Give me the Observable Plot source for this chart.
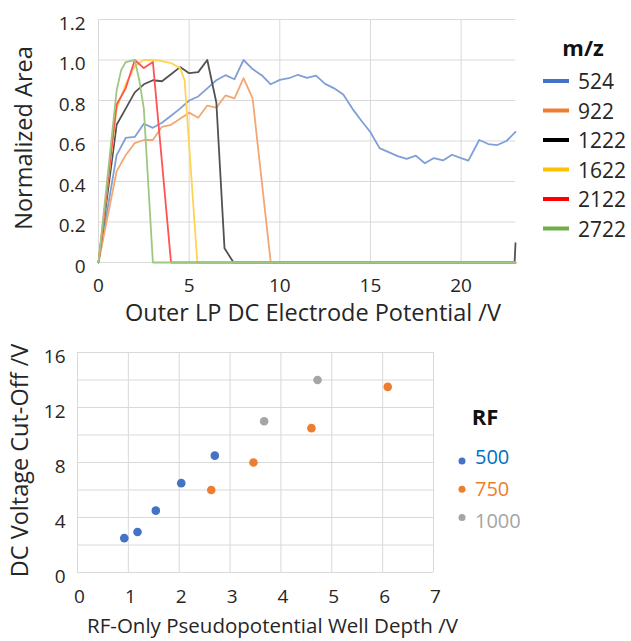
<!DOCTYPE html>
<html>
<head>
<meta charset="utf-8">
<script src="https://cdn.jsdelivr.net/npm/d3@7"></script>
<script src="https://cdn.jsdelivr.net/npm/@observablehq/plot@0.6"></script>
<style>
  html, body { margin: 0; padding: 0; background: #fff; }
  #wrap { position: relative; width: 631px; height: 641px; overflow: hidden; font-family: "Open Sans", sans-serif; }
  #top, #bottom { position: absolute; left: 0; }
  #top { top: 0; }
  #bottom { top: 330px; }
  #legend { position: absolute; left: 0; top: 0; pointer-events: none; }
</style>
</head>
<body>
<div id="wrap">
  <div id="top"></div>
  <div id="bottom"></div>
  <svg id="legend" width="631" height="641"></svg>
</div>
<script>
// ---------- Top chart data (x = Outer LP DC electrode potential /V, y = normalized area) ----------
const mzNames = ["524", "922", "1222", "1622", "2122", "2722"];
const mzColors = ["#4472C4", "#ED7D31", "#000000", "#FFC000", "#FF0000", "#70AD47"];

const mz524 = [[0,0],[1,0.53],[1.5,0.615],[2,0.62],[2.5,0.685],[3,0.665],[3.5,0.69],[4,0.725],[4.5,0.76],
  [5,0.8],[5.5,0.82],[6,0.86],[6.5,0.9],[7,0.925],[7.5,0.905],[8,1.0],[8.5,0.955],[9,0.925],[9.5,0.88],
  [10,0.902],[10.5,0.91],[11,0.927],[11.5,0.912],[12,0.923],[12.5,0.882],[13,0.86],[13.5,0.83],[14,0.76],
  [14.5,0.7],[15,0.643],[15.5,0.565],[16,0.545],[16.5,0.525],[17,0.512],[17.5,0.528],[18,0.49],[18.5,0.516],
  [19,0.504],[19.5,0.532],[20,0.515],[20.4,0.503],[21,0.605],[21.5,0.585],[22,0.58],[22.5,0.6],[23,0.645]];
const mz922 = [[0,0],[1,0.45],[1.5,0.53],[2,0.59],[2.5,0.605],[3,0.605],[3.5,0.67],[4,0.68],[4.5,0.71],
  [5,0.74],[5.5,0.715],[6,0.775],[6.5,0.765],[7,0.825],[7.5,0.81],[8,0.91],[8.5,0.81],[9.5,0],[23,0]];
const mz1222 = [[0,0],[1,0.68],[1.5,0.76],[2,0.84],[2.5,0.88],[3,0.9],[3.5,0.895],[4,0.93],[4.5,0.965],
  [5,0.935],[5.5,0.94],[6,1.0],[6.5,0.79],[6.95,0.07],[7.45,0],[22.95,0],[23,0.095]];
const mz1622 = [[0,0],[1,0.76],[1.5,0.88],[2,0.97],[2.5,1.0],[3,1.0],[3.5,0.995],[4,0.985],[4.5,0.96],
  [4.75,0.9],[5.45,0],[23,0]];
const mz2122 = [[0,0],[1,0.78],[1.5,0.86],[2,1.0],[2.5,0.96],[3,0.99],[4,0],[23,0]];
const mz2722 = [[0,0],[1,0.85],[1.25,0.95],[1.5,0.99],[2,1.0],[2.25,0.9],[2.5,0.76],[3,0],[23,0]];
const mzSeries = [mz524, mz922, mz1222, mz1622, mz2122, mz2722];

const topXTicks = [0, 5, 10, 15, 20];
const topYTicks = [0, 0.2, 0.4, 0.6, 0.8, 1.0, 1.2];

// ---------- Bottom chart data (x = RF-only pseudopotential well depth /V, y = DC cut-off /V) ----------
const rfNames = ["500", "750", "1000"];
const rfColors = ["#4472C4", "#ED7D31", "#A5A5A5"];
const rfTextColors = ["#0070C0", "#ED7D31", "#A5A5A5"];
const rf500 = [[0.92,2.5],[1.18,2.95],[1.54,4.5],[2.04,6.5],[2.7,8.5]];
const rf750 = [[2.63,6.0],[3.46,8.0],[4.6,10.5],[6.1,13.5]];
const rf1000 = [[3.67,11.0],[4.72,14.0]];
const rfSeries = [rf500, rf750, rf1000];

const botXTicks = [0, 1, 2, 3, 4, 5, 6, 7];
const botYGrid = [0, 2, 4, 6, 8, 10, 12, 14, 16];
const botYTicks = [0, 4, 8, 12, 16];

// ---------- build tables ----------
const lineRows = mzSeries.flatMap((s, i) => s.map(([x, y]) => ({x, y, mz: mzNames[i]})));
const dotRows = rfSeries.flatMap((s, i) => s.map(([x, y]) => ({x, y, rf: rfNames[i]})));
// plotted lines appear as paler tints of the legend colours
const mzLineColors = mzColors.map(c => d3.interpolateRgb(c, "#ffffff")(0.32));

const FONT = "Open Sans";
const tickFill = "#262626";
const titleFill = "#262626";
const gridColor = "#d9d9d9";

const topPlot = Plot.plot({
  width: 631, height: 330,
  marginTop: 19, marginBottom: 68, marginLeft: 98, marginRight: 116,
  style: {fontFamily: FONT, background: "white", overflow: "visible"},
  x: {domain: [0, 23]},
  y: {domain: [0, 1.2]},
  color: {domain: mzNames, range: mzLineColors},
  marks: [
    Plot.gridX(topXTicks, {stroke: gridColor, strokeOpacity: 1}),
    Plot.gridY(topYTicks, {stroke: gridColor, strokeOpacity: 1}),
    Plot.axisX(topXTicks, {tickSize: 0, tickPadding: 16, fontSize: 19, fill: tickFill, label: null}),
    Plot.axisY(topYTicks, {tickSize: 0, tickPadding: 13, fontSize: 19, fill: tickFill, label: null, dy: 4,
      tickFormat: d => d === 0 ? "0" : d.toFixed(1)}),
    Plot.line(lineRows, {x: "x", y: "y", z: "mz", stroke: "mz", strokeWidth: 1.8}),
    Plot.text(["Outer LP DC Electrode Potential /V"], {text: d => d, frameAnchor: "bottom", dy: 51, dx: 6,
      lineAnchor: "middle", textAnchor: "middle", fontSize: 23.5, fill: titleFill}),
    Plot.text(["Normalized Area"], {text: d => d, frameAnchor: "left", rotate: -90, dx: -74, dy: -3,
      lineAnchor: "middle", textAnchor: "middle", fontSize: 23.5, fill: titleFill})
  ]
});
document.getElementById("top").appendChild(topPlot);

const botPlot = Plot.plot({
  width: 631, height: 311,
  marginTop: 22, marginBottom: 69, marginLeft: 77, marginRight: 198,
  style: {fontFamily: FONT, background: "white", overflow: "visible"},
  x: {domain: [0, 7]},
  y: {domain: [0, 16]},
  color: {domain: rfNames, range: rfColors},
  marks: [
    Plot.gridX(botXTicks, {stroke: gridColor, strokeOpacity: 1}),
    Plot.gridY(botYGrid, {stroke: gridColor, strokeOpacity: 1}),
    Plot.axisX(botXTicks, {tickSize: 0, tickPadding: 17, fontSize: 19, fill: tickFill, label: null, dx: 2}),
    Plot.axisY(botYTicks, {tickSize: 0, tickPadding: 12, fontSize: 19, fill: tickFill, label: null, dy: 4}),
    Plot.dot(dotRows, {x: "x", y: "y", fill: "rf", r: 4.3, stroke: "none"}),
    Plot.text(["RF-Only Pseudopotential Well Depth /V"], {text: d => d, frameAnchor: "bottom", dy: 54, dx: 17,
      lineAnchor: "middle", textAnchor: "middle", fontSize: 20.5, fill: titleFill}),
    Plot.text(["DC Voltage Cut-Off /V"], {text: d => d, frameAnchor: "left", rotate: -90, dx: -57, dy: -2,
      lineAnchor: "middle", textAnchor: "middle", fontSize: 23.5, fill: titleFill})
  ]
});
document.getElementById("bottom").appendChild(botPlot);

// ---------- legends ----------
const lg = d3.select("#legend").style("font-family", FONT);
lg.append("text").attr("x", 583).attr("y", 47).attr("text-anchor", "middle").attr("dominant-baseline", "central")
  .attr("font-weight", "bold").attr("font-size", 22).attr("fill", "#111").text("m/z");
mzNames.forEach((n, i) => {
  const y = 81 + i * 29.5;
  lg.append("line").attr("x1", 543).attr("x2", 569).attr("y1", y).attr("y2", y)
    .attr("stroke", mzColors[i]).attr("stroke-width", 4);
  lg.append("text").attr("x", 578).attr("y", y).attr("dominant-baseline", "central")
    .attr("font-size", 21).attr("fill", "#262626").text(n);
});
lg.append("text").attr("x", 485).attr("y", 416).attr("text-anchor", "middle").attr("dominant-baseline", "central")
  .attr("font-weight", "bold").attr("font-size", 22).attr("fill", "#111").text("RF");
rfNames.forEach((n, i) => {
  lg.append("circle").attr("cx", 462).attr("cy", 461 + i * 28.3).attr("r", 3.5).attr("fill", rfColors[i]);
  lg.append("text").attr("x", 475).attr("y", 456 + i * 32).attr("dominant-baseline", "central")
    .attr("font-size", 20).attr("fill", rfTextColors[i]).text(n);
});
</script>
</body>
</html>
